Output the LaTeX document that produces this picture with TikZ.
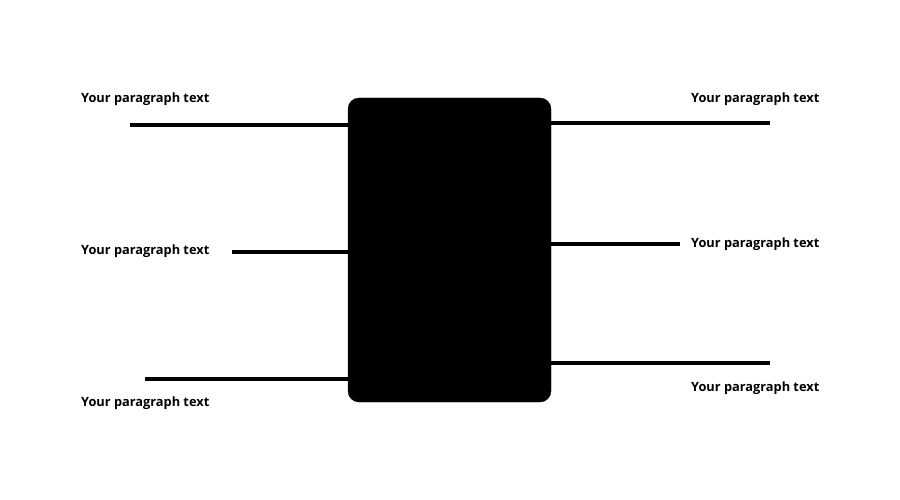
\documentclass[tikz,border=0pt]{standalone}
\usepackage{fontspec}
\setmainfont{Open Sans}
\usetikzlibrary{positioning}
\tikzset{
  block/.style={fill=black, draw=black, rounded corners=11pt, minimum width=203pt, minimum height=304pt, inner sep=0pt},
  lead/.style={line width=3.6pt},
  para/.style={font=\fontsize{12.8}{15}\selectfont\bfseries, inner sep=0pt, anchor=west}
}
\begin{document}
\begin{tikzpicture}[x=1pt,y=-1pt]
\useasboundingbox (0,0) rectangle (900,500);

\node[block] (box) at (449.5,250) {};

% left side
\coordinate (lt) at (130,125);
\coordinate (lm) at (232,252);
\coordinate (lb) at (145,379);
\draw[lead] (lt) -- (lt -| box.west);
\draw[lead] (lm) -- (lm -| box.west);
\draw[lead] (lb) -- (lb -| box.west);
\node[para] (tlt) at (81,99) {Your paragraph text};
\node[para] (tlm) at (81,251) {Your paragraph text};
\node[para] (tlb) at (81,403) {Your paragraph text};

% right side
\coordinate (rt) at (770,123);
\coordinate (rm) at (680,244);
\coordinate (rb) at (770,363);
\draw[lead] (rt -| box.east) -- (rt);
\draw[lead] (rm -| box.east) -- (rm);
\draw[lead] (rb -| box.east) -- (rb);
\node[para] (trt) at (691,99) {Your paragraph text};
\node[para] (trm) at (691,244) {Your paragraph text};
\node[para] (trb) at (691,388) {Your paragraph text};
\end{tikzpicture}
\end{document}
